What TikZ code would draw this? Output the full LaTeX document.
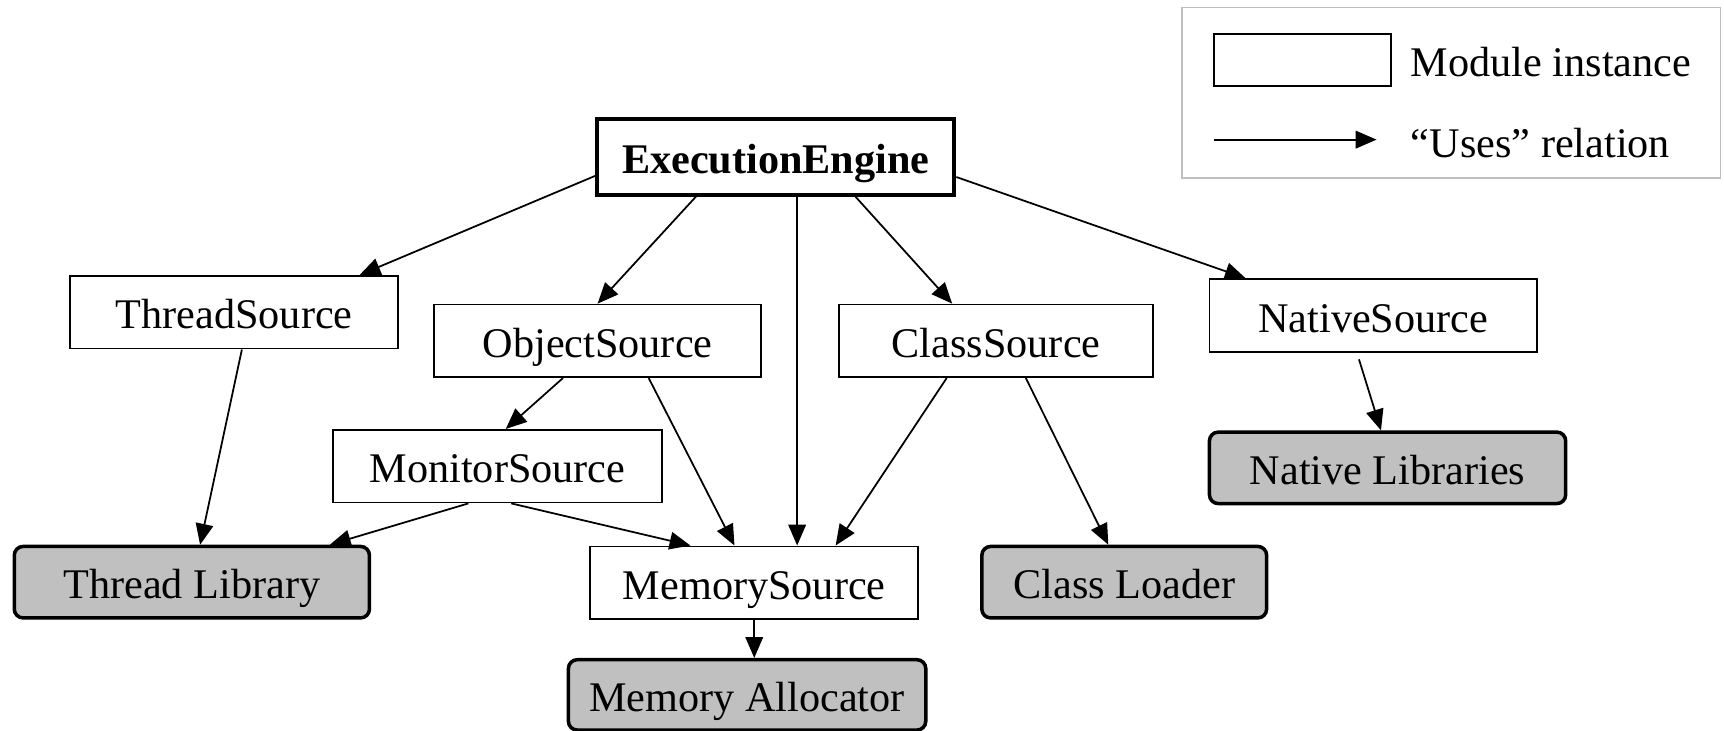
\documentclass[tikz,border=0pt]{standalone}
\usepackage{fontspec}
\setmainfont{Liberation Serif}
\usepackage{tikz}
\usetikzlibrary{arrows.meta, positioning, calc}
\definecolor{libgray}{RGB}{192,192,192}
\definecolor{framegray}{RGB}{190,190,190}

\begin{document}
\begin{tikzpicture}[
    x=1pt, y=-1pt,
    font=\fontsize{38.4}{44}\selectfont,
    every node/.style={text height=38.4pt, text depth=8.4pt},
    module/.style={rectangle, draw, line width=1.7pt, minimum width=298pt, minimum height=66pt, inner sep=0pt, align=center},
    engine/.style={module, line width=3.6pt, font=\fontsize{38.4}{44}\selectfont\bfseries},
    library/.style={rectangle, draw, rounded corners=8pt, line width=3.2pt, fill=libgray, minimum height=65pt, inner sep=0pt, align=center},
    uses/.style={-{Triangle[length=19pt, width=16pt]}, line width=1.6pt}
]
\useasboundingbox (0,0) rectangle (1568,664);

% modules
\node[engine, minimum width=325pt, minimum height=69pt] (engine) at (705.5,142.5) {ExecutionEngine};
\node[module] (thread) at (213,284) {ThreadSource};
\node[module, minimum width=297pt] (object) at (543.5,310) {ObjectSource};
\node[module, minimum width=286pt] (class) at (906,310) {ClassSource};
\node[module] (native) at (1249,287) {NativeSource};
\node[module, minimum width=299pt] (monitor) at (452.5,424) {MonitorSource};
\node[module] (memory) at (686,530) {MemorySource};

% libraries
\node[library, minimum width=323pt] (threadlib) at (174.5,529.5) {Thread Library};
\node[library, minimum width=259pt] (loader) at (1022.5,529.5) {Class Loader};
\node[library, minimum width=324pt] (nativelib) at (1262,425.5) {Native Libraries};
\node[library, minimum width=325pt, minimum height=64pt] (alloc) at (679.5,632) {Memory Allocator};

% uses relations
\draw[uses] ([yshift=-17.5pt]engine.west) -- ([xshift=114pt]thread.north);
\draw[uses] ([xshift=-72.5pt]engine.south) -- (object.north);
\draw[uses] ([xshift=19.5pt]engine.south) -- ([xshift=39pt]memory.north);
\draw[uses] ([xshift=72.5pt]engine.south) -- ([xshift=-40pt]class.north);
\draw[uses] ([yshift=-18.5pt]engine.east) -- ([xshift=-116pt]native.north);
\draw[uses] ([xshift=7pt]thread.south) -- ([xshift=7.5pt]threadlib.north);
\draw[uses] ([xshift=-31.5pt]object.south) -- ([xshift=7.5pt]monitor.north);
\draw[uses] ([xshift=46.5pt]object.south) -- ([xshift=-18pt]memory.north);
\draw[uses] ([xshift=-26.5pt]monitor.south) -- ([xshift=125.5pt]threadlib.north);
\draw[uses] ([xshift=12.5pt]monitor.south) -- ([xshift=-58pt]memory.north);
\draw[uses] ([xshift=-45pt]class.south) -- ([xshift=74pt]memory.north);
\draw[uses] ([xshift=27pt]class.south) -- ([xshift=-14.5pt]loader.north);
\draw[uses] ([xshift=-13pt,yshift=-6pt]native.south) -- ([xshift=-6pt]nativelib.north);
\draw[uses] (memory.south) -- (memory.south |- alloc.north);

% legend
\node[rectangle, draw=framegray, line width=1.4pt, minimum width=490pt, minimum height=155pt, inner sep=0pt] (legend) at (1320,84.5) {};
\node[module, minimum width=161pt, minimum height=47pt] (legbox) at (1184.5,54.5) {};
\node[anchor=west, inner sep=0pt] (legmodtext) at (1283,55) {Module instance};
\coordinate (legfrom) at (1104,127);
\coordinate (legto) at (1252,127);
\draw[uses] (legfrom) -- (legto);
\node[anchor=west, inner sep=0pt] (legusestext) at (1283,128) {``Uses'' relation};
\end{tikzpicture}
\end{document}
